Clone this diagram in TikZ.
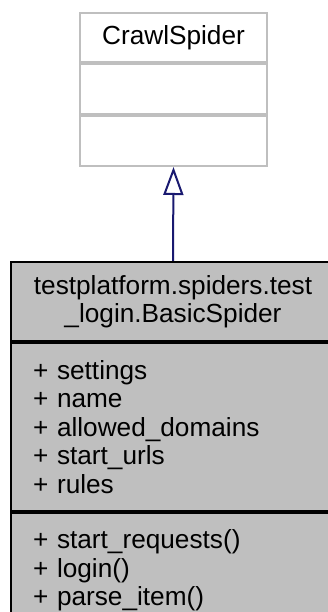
\documentclass[tikz,border=0pt]{standalone}
\usepackage{fontspec}
\setmainfont{Liberation Sans}
\usetikzlibrary{arrows.meta,positioning}
\definecolor{edgeblue}{RGB}{25,25,112}
\definecolor{boxgray}{RGB}{191,191,191}
\definecolor{linegray}{RGB}{191,191,191}

\begin{document}
\begin{tikzpicture}[x=1pt,y=1pt,
    sec/.style={rectangle,draw,line width=2pt,inner xsep=22pt,inner ysep=0pt,font=\fontsize{26.2}{28.4}\selectfont,fill=#1},
    arr/.style={-{Triangle[open,length=28pt,width=20pt]},line width=2pt,edgeblue},
]
\clip (0,0) rectangle (328,612);

% Base class
\node[sec=white,draw=linegray,minimum width=187pt,minimum height=49pt] (basename) at (173.5,574.5) {CrawlSpider};
\node[sec=white,draw=linegray,minimum width=187pt,minimum height=50pt,below=0pt of basename] (baseattr) {};
\node[sec=white,draw=linegray,minimum width=187pt,minimum height=50pt,below=0pt of baseattr] (baseops) {};

% Derived class
\node[sec=boxgray,text width=280pt,align=center,minimum height=79pt] (clsname) at (173,310.5) {testplatform.spiders.test\\\_login.BasicSpider};
\node[sec=boxgray,text width=280pt,align=left,minimum height=168pt,below=0pt of clsname] (clsattr) {+ settings\\+ name\\+ allowed\_domains\\+ start\_urls\\+ rules};
\node[sec=boxgray,text width=280pt,align=left,minimum height=115pt,below=0pt of clsattr] (clsops) {+ start\_requests()\\+ login()\\+ parse\_item()};

% Inheritance
\draw[arr] (clsname.north) -- (baseops.south);
\end{tikzpicture}
\end{document}
